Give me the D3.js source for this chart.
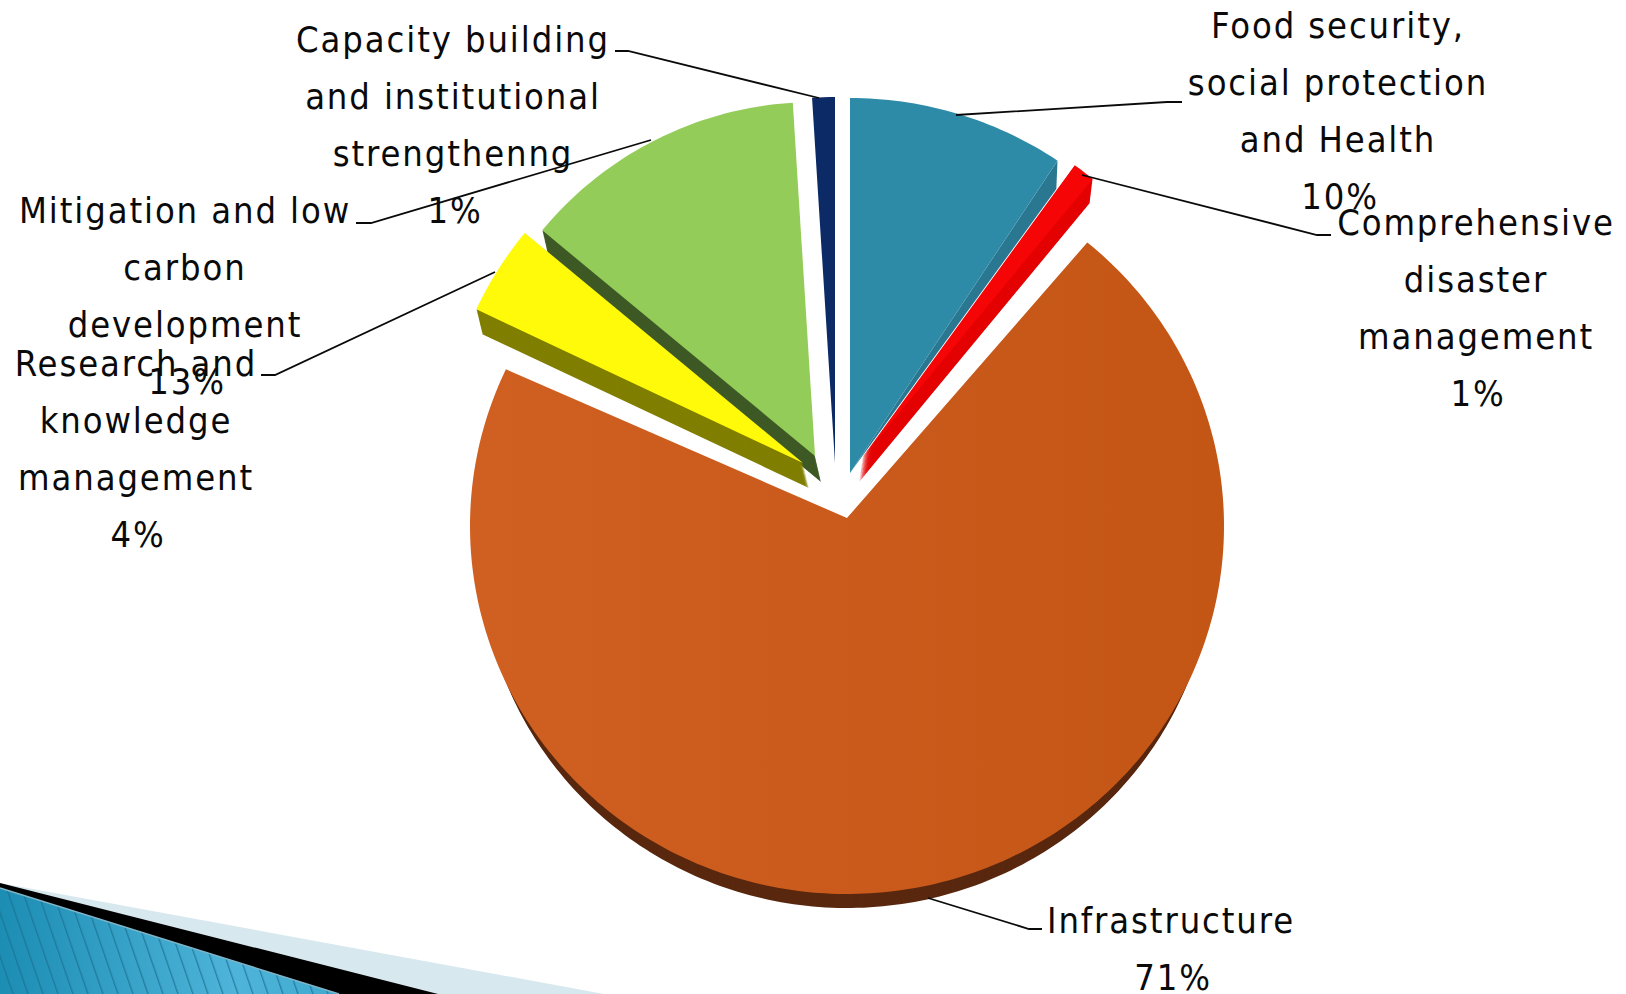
<!DOCTYPE html>
<html>
<head>
<meta charset="utf-8">
<script src="https://cdn.jsdelivr.net/npm/d3@7"></script>
<style>
  html, body { margin: 0; padding: 0; background: #fff; overflow: hidden; }
  text { font-family: "DejaVu Sans Condensed", "DejaVu Sans", sans-serif; fill: #0a0a0a; text-anchor: middle; }
</style>
</head>
<body>
<script>
// Chart data, clockwise from twelve o'clock
const categories = [
  "Food security, social protection and Health",
  "Comprehensive disaster management",
  "Infrastructure",
  "Research and knowledge management",
  "Mitigation and low carbon development",
  "Capacity building and institutional strengthenng"
];
const values = [10, 1, 71, 4, 13, 1];
const labelLines = [
  ["Food security,", "social protection", "and Health"],
  ["Comprehensive", "disaster", "management"],
  ["Infrastructure"],
  ["Research and", "knowledge", "management"],
  ["Mitigation and low", "carbon", "development"],
  ["Capacity building", "and institutional", "strengthenng"]
];

// Exploded-slice geometry: tip position, radii, ellipse centre, extrusion offset
// wallShrink narrows the extruded rim so it only shows along the lower edge;
// wallSpan limits the sweep to the leading part of the slice
const sliceLayout = [
  { tip: [850, 473], c: [850, 473], rx: 375, ry: 375, wall: [0, 0],   wallShrink: 0,  wallSpan: 1,   endInset: 2.4, sliverShrink: 24 },
  { tip: [862, 458], c: [862, 458], rx: 362, ry: 362, wall: [-3, 24], wallShrink: 0,  wallSpan: 1,   endInset: 0,   sliverShrink: 0 },
  { tip: [847, 518], c: [847, 526], rx: 377, ry: 368, wall: [0, 24],  wallShrink: 10, wallSpan: 1,   endInset: 0,   sliverShrink: 0 },
  { tip: [803, 463], c: [803, 463], rx: 361, ry: 361, wall: [6, 25],  wallShrink: 0,  wallSpan: 1,   endInset: 0,   sliverShrink: 0 },
  { tip: [815, 456], c: [815, 456], rx: 354, ry: 354, wall: [6, 26],  wallShrink: 0,  wallSpan: 0.5, endInset: 0,   sliverShrink: 0 },
  { tip: [835, 463], c: [835, 463], rx: 366, ry: 366, wall: [0, 0],   wallShrink: 0,  wallSpan: 1,   endInset: 0,   sliverShrink: 0 }
];
const faceColors = ["#2E8BA8", "#F50505", "url(#infraFill)", "#FFFA0A", "#93CC58", "#0B2A66"];
const wallColors = ["#2A7792", "#E40303", "#59280F", "#807F00", "#3F5A26", "#0B2A66"];
const paintOrder = [2, 4, 3, 5, 0, 1];

// Label anchors and their leader lines
const labelX = [1338, 1476, 1171, 136, 185, 453];
const labelY = [37.5, 235, 933, 376, 223, 52];
const leaders = [
  [[1182, 102], [1167, 102], [956, 115]],
  [[1331, 235], [1317, 235], [1082, 175]],
  [[1042, 929], [1029, 929], [928, 898]],
  [[261, 375], [275, 375], [495, 272]],
  [[356, 223], [371, 223], [651, 140]],
  [[615, 51], [628, 51], [819, 98]]
];
const lineHeight = 57;

const svg = d3.select("body").append("svg")
  .attr("width", 1626).attr("height", 994)
  .style("display", "block");

const defs = svg.append("defs");
const infraFill = defs.append("linearGradient").attr("id", "infraFill")
  .attr("x1", 0).attr("x2", 1).attr("y1", 0).attr("y2", 0);
infraFill.append("stop").attr("offset", 0).attr("stop-color", "#D06022");
infraFill.append("stop").attr("offset", 1).attr("stop-color", "#C35515");

const cornerFill = defs.append("linearGradient").attr("id", "cornerFill")
  .attr("x1", 0).attr("x2", 1).attr("y1", 0).attr("y2", 0);
cornerFill.append("stop").attr("offset", 0).attr("stop-color", "#1C8DB3");
cornerFill.append("stop").attr("offset", 0.7).attr("stop-color", "#4FB4D9");
cornerFill.append("stop").attr("offset", 1).attr("stop-color", "#3FA9CF");

const hatch = defs.append("pattern").attr("id", "cornerHatch")
  .attr("patternUnits", "userSpaceOnUse").attr("width", 15).attr("height", 60)
  .attr("patternTransform", "skewX(19)");
hatch.append("rect").attr("x", 0).attr("y", 0).attr("width", 1.4).attr("height", 60)
  .attr("fill", "#1A6F92").attr("fill-opacity", 0.75);

// Slide-corner decoration
const corner = svg.append("g");
const cornerShape = (pts, fill) => corner.append("path")
  .attr("d", d3.line()(pts) + "Z").attr("fill", fill);
cornerShape([[0, 883], [604, 994], [0, 994]], "#D8E8EF");
cornerShape([[0, 883], [438, 994], [0, 994]], "#000");
cornerShape([[0, 888], [339, 994], [0, 994]], "url(#cornerFill)");
cornerShape([[0, 888], [339, 994], [0, 994]], "url(#cornerHatch)");
corner.append("path").attr("d", d3.line()([[0, 888], [339, 994]]))
  .attr("stroke", "#7FB6C9").attr("stroke-width", 1.5).attr("fill", "none");

// Pie angles from the values
const arcs = d3.pie().sort(null).value(d => d)(values);
const deg = Math.PI / 180;

function rimPoint(layout, a, shrink = 0) {
  return [layout.c[0] + (layout.rx - shrink) * Math.sin(a), layout.c[1] - (layout.ry - shrink) * Math.cos(a)];
}

function slicePath(layout, a0, a1, shrink = 0) {
  const steps = Math.max(4, Math.ceil((a1 - a0) / deg));
  const rim = d3.range(steps + 1).map(i => rimPoint(layout, a0 + (a1 - a0) * i / steps, shrink));
  return d3.line()([layout.tip, ...rim]) + "Z";
}

const pie = svg.append("g");
paintOrder.forEach(i => {
  const layout = sliceLayout[i];
  const arc = arcs[i];
  const depth = Math.ceil(Math.hypot(layout.wall[0], layout.wall[1]));
  const sweepEnd = arc.startAngle + (arc.endAngle - arc.startAngle) * layout.wallSpan;
  const faceEnd = arc.endAngle - layout.endInset * deg;
  const slice = pie.append("g");
  // Extruded side: the slice outline swept along its wall offset
  d3.range(depth, 0, -1).forEach(k => {
    slice.append("path")
      .attr("d", slicePath(layout, arc.startAngle, sweepEnd, layout.wallShrink))
      .attr("transform", `translate(${layout.wall[0] * k / depth},${layout.wall[1] * k / depth})`)
      .attr("fill", wallColors[i]);
  });
  // Darker sliver where the top face stops short of the slice edge
  if (layout.endInset > 0) {
    slice.append("path")
      .attr("d", d3.line()([layout.tip, rimPoint(layout, arc.endAngle, layout.sliverShrink), rimPoint(layout, faceEnd)]) + "Z")
      .attr("fill", wallColors[i]);
  }
  slice.append("path")
    .attr("d", slicePath(layout, arc.startAngle, faceEnd))
    .attr("fill", faceColors[i]);
});

// Leader lines
svg.append("g").selectAll("path").data(leaders).join("path")
  .attr("d", d => d3.line()(d))
  .attr("fill", "none").attr("stroke", "#0a0a0a").attr("stroke-width", 1.8);

// Category labels with their share on the last line
const percent = d3.format(".0%");
const total = d3.sum(values);
const labels = svg.append("g");
categories.forEach((name, i) => {
  const label = labels.append("text")
    .attr("font-size", 36)
    .attr("letter-spacing", "1.9px");
  labelLines[i].forEach((line, j) => {
    label.append("tspan")
      .attr("x", labelX[i])
      .attr("y", labelY[i] + j * lineHeight)
      .text(line);
  });
  label.append("tspan")
    .attr("x", labelX[i] + 2)
    .attr("y", labelY[i] + labelLines[i].length * lineHeight)
    .text(percent(values[i] / total));
});
</script>
</body>
</html>
